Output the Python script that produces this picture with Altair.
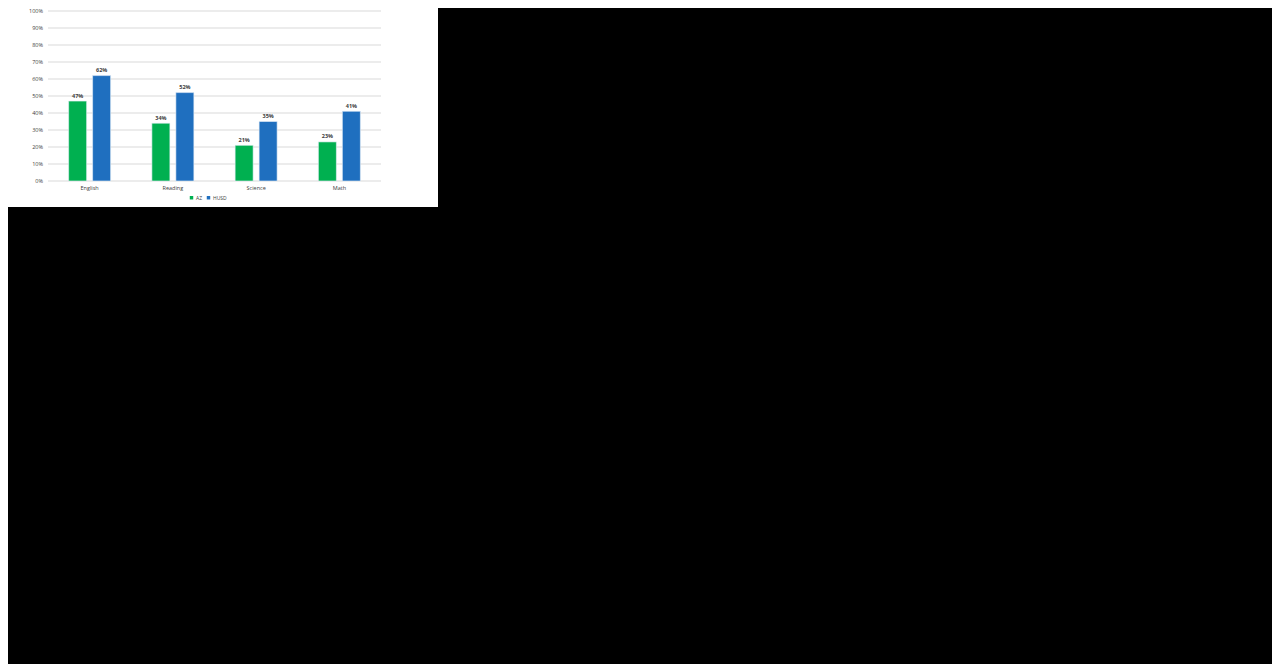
import altair as alt
import pandas as pd

# ---- data ----
categories = ["English", "Reading", "Science", "Math"]
series = ["AZ", "HUSD"]
az_values = [0.47, 0.34, 0.21, 0.23]
husd_values = [0.62, 0.52, 0.35, 0.41]
tick_values = [0.0, 0.1, 0.2, 0.3, 0.4, 0.5, 0.6, 0.7, 0.8, 0.9, 1.0]
tick_labels = ["0%", "10%", "20%", "30%", "40%", "50%", "60%", "70%", "80%", "90%", "100%"]
colors = ["#00b050", "#1f6fbf"]

rows = []
for c, a, h in zip(categories, az_values, husd_values):
    rows.append({"cat": c, "series": "AZ", "value": a})
    rows.append({"cat": c, "series": "HUSD", "value": h})
df = pd.DataFrame(rows)
ticks = pd.DataFrame({"tick": tick_values, "label": tick_labels})
cats = pd.DataFrame({"cat": categories})
panel = pd.DataFrame({"p": [0]})

FONT = "Open Sans"

xscale = alt.Scale(domain=categories, range=[40, 373], paddingInner=0, paddingOuter=0)
yscale = alt.Scale(domain=[0, 1], range=[173, 3], nice=False, zero=True)
offscale = alt.Scale(domain=series, paddingInner=0.25, paddingOuter=0.86)

bg = alt.Chart(panel).mark_rect(color="white").encode(
    x=alt.value(0), x2=alt.value(430), y=alt.value(0), y2=alt.value(199)
)

grid = alt.Chart(ticks).mark_rule(color="#d9d9d9", strokeWidth=1).encode(
    y=alt.Y("tick:Q", scale=yscale, axis=None),
    x=alt.value(40),
    x2=alt.value(373),
)

ytext = alt.Chart(ticks).mark_text(
    align="right", baseline="middle", font=FONT, fontSize=5.5, color="#404040"
).encode(
    y=alt.Y("tick:Q", scale=yscale, axis=None),
    x=alt.value(35),
    text="label:N",
)

bars = alt.Chart(df).mark_bar(stroke="#e8f0f8", strokeWidth=0.6).encode(
    x=alt.X("cat:N", scale=xscale, axis=None, sort=categories),
    xOffset=alt.XOffset("series:N", scale=offscale, sort=series),
    y=alt.Y("value:Q", scale=yscale, axis=None),
    color=alt.Color(
        "series:N",
        scale=alt.Scale(domain=series, range=colors),
        legend=alt.Legend(
            title=None,
            orient="none",
            legendX=181,
            legendY=187,
            direction="horizontal",
            symbolType="square",
            symbolSize=12,
            symbolStrokeWidth=0,
            labelFont=FONT,
            labelFontSize=5,
            labelColor="#404040",
            labelOffset=2,
            columnPadding=3,
            padding=0,
        ),
    ),
)

vlabels = alt.Chart(df).mark_text(
    baseline="bottom", dy=-2.5, font=FONT, fontSize=5.5, fontWeight="bold", color="#404040"
).encode(
    x=alt.X("cat:N", scale=xscale, axis=None, sort=categories),
    xOffset=alt.XOffset("series:N", scale=offscale, sort=series),
    y=alt.Y("value:Q", scale=yscale, axis=None),
    text=alt.Text("value:Q", format=".0%"),
)

xtext = alt.Chart(cats).mark_text(
    baseline="middle", font=FONT, fontSize=5.5, color="#404040"
).encode(
    x=alt.X("cat:N", scale=xscale, axis=None, sort=categories),
    y=alt.value(180),
    text="cat:N",
)

chart = alt.layer(bg, grid, ytext, bars, vlabels, xtext).properties(
    width=1264,
    height=656,
    background="black",
    padding=0,
    autosize=alt.AutoSizeParams(type="none"),
).configure_view(stroke=None)

chart.save("out.html", embed_options={"renderer": "svg", "actions": False})
